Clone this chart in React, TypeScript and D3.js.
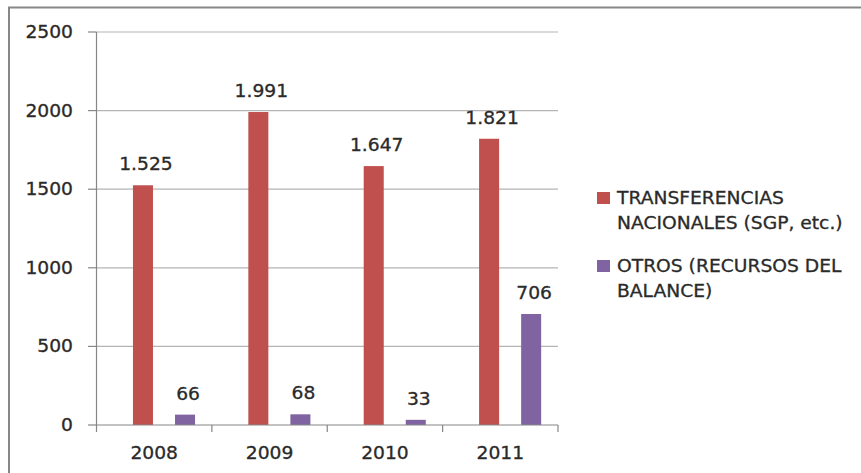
import * as d3 from "d3";

const years = ["2008", "2009", "2010", "2011"];
const seriesNames = ["TRANSFERENCIAS NACIONALES (SGP, etc.)", "OTROS (RECURSOS DEL BALANCE)"];
const transferencias = [1525, 1991, 1647, 1821];
const otros = [66, 68, 33, 706];
const yTicks = [0, 500, 1000, 1500, 2000, 2500];
const legendLines = [
    ["TRANSFERENCIAS", "NACIONALES (SGP, etc.)"],
    ["OTROS (RECURSOS DEL", "BALANCE)"],
];
const colors = ["#C0504D", "#8064A2"];

const W = 861;
const H = 473;
const SX = 1.1; // the source text is slightly stretched horizontally
const FONT = "'DejaVu Sans', sans-serif";
const INK = "#2a2a2a";

const esFormat = d3.formatLocale({ decimal: ",", thousands: ".", grouping: [3], currency: ["$", ""] }).format(",");

function Label({ x, y, anchor = "middle", children }) {
    return (
        <text
            transform={`translate(${x},${y}) scale(${SX},1)`}
            textAnchor={anchor}
            fontFamily={FONT}
            fontSize={17}
            fill={INK}
            stroke={INK}
            strokeWidth={0.3}
        >
            {children}
        </text>
    );
}

export default function App() {
    const plot = { left: 96.5, right: 558, top: 32, bottom: 425 };

    const y = d3.scaleLinear([0, 2500], [plot.bottom, plot.top]);
    const x0 = d3.scaleBand(years, [plot.left, plot.right]);
    const bw = x0.bandwidth();
    const x1 = d3.scaleBand([0, 1], [bw * 0.316, bw * 0.854]).paddingInner(0.524);

    const series = [transferencias, otros];
    const catEdges = [...years.map(yr => x0(yr)), plot.right];

    return (
        <svg width={W} height={H} style={{ position: "absolute", left: 0, top: 0, background: "#fff" }}>
            {/* chart border, runs off the right and bottom of the picture */}
            <rect x={9} y={7.5} width={W + 20} height={H + 20} fill="#fff" stroke="#878787" strokeWidth={2} />

            <g id="grid">
                {yTicks.filter(t => t > 0).map(t => (
                    <line key={t} x1={plot.left} x2={plot.right} y1={y(t)} y2={y(t)} stroke="#b4b4b4" strokeWidth={1.2} />
                ))}
            </g>

            <g id="y-axis">
                <line x1={plot.left} x2={plot.left} y1={plot.top} y2={plot.bottom} stroke="#868686" strokeWidth={1.2} />
                {yTicks.map(t => (
                    <g key={t}>
                        <line x1={88} x2={plot.left} y1={y(t)} y2={y(t)} stroke="#868686" strokeWidth={1.2} />
                        <Label x={73} y={y(t) + 6} anchor="end">{t}</Label>
                    </g>
                ))}
            </g>

            <g id="bars">
                {series.map((vals, s) =>
                    vals.map((v, i) => {
                        const bx = x0(years[i]) + x1(s);
                        return (
                            <g key={`${s}-${i}`}>
                                <rect x={bx} y={y(v)} width={x1.bandwidth()} height={y(0) - y(v)} fill={colors[s]} />
                                <Label x={bx + x1.bandwidth() / 2 + 3} y={y(v) - 15}>{esFormat(v)}</Label>
                            </g>
                        );
                    })
                )}
            </g>

            <g id="x-axis">
                <line x1={plot.left} x2={plot.right} y1={plot.bottom} y2={plot.bottom} stroke="#868686" strokeWidth={1.2} />
                {catEdges.map((cx, i) => (
                    <line key={i} x1={cx} x2={cx} y1={plot.bottom} y2={plot.bottom + 7} stroke="#868686" strokeWidth={1.2} />
                ))}
                {years.map(yr => (
                    <Label key={yr} x={x0(yr) + bw / 2} y={459}>{yr}</Label>
                ))}
            </g>

            <g id="legend">
                {seriesNames.map((name, s) => {
                    const base = 204 + s * 68;
                    return (
                        <g key={name}>
                            <rect x={597} y={base - 12} width={13} height={12} fill={colors[s]} />
                            {legendLines[s].map((ln, j) => (
                                <Label key={j} x={617} y={base + j * 25} anchor="start">{ln}</Label>
                            ))}
                        </g>
                    );
                })}
            </g>
        </svg>
    );
}
